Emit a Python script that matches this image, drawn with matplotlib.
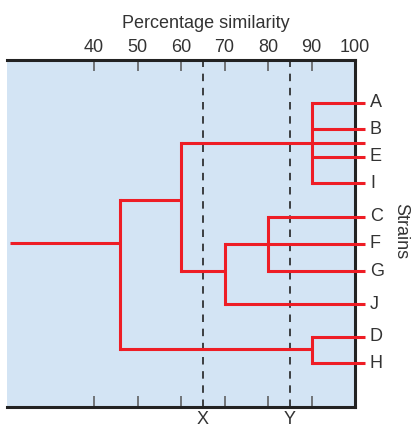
import matplotlib
matplotlib.use("Agg")
import matplotlib.pyplot as plt
from matplotlib.transforms import blended_transform_factory

plt.rcParams['font.family'] = ['Liberation Sans', 'DejaVu Sans']

## Data
# leaf names and their row positions (rows counted from the top edge)
leaf_names = ['A', 'B', 'E', 'I', 'C', 'F', 'G', 'J', 'D', 'H']
leaf_rows = [1.56, 2.54, 3.54, 4.51, 5.74, 6.74, 7.73, 8.94, 10.14, 11.11]
# similarity level at which each leaf joins its cluster
leaf_levels = [90, 90, 90, 90, 80, 80, 80, 70, 90, 90]

# clusters: similarity level, span of the vertical, row of the stem, parent level
cluster_names = ['ABEI', 'CFG', 'CFGJ', 'ABEICFGJ', 'DH', 'root']
cluster_levels = [90, 80, 70, 60, 90, 46]
cluster_top = [1.56, 5.74, 6.74, 3.04, 10.14, 5.13]
cluster_bottom = [4.51, 7.73, 8.94, 7.73, 11.11, 10.6]
cluster_stem = [3.04, 6.74, 7.73, 5.13, 10.6, 6.71]
cluster_parent = [60, 70, 60, 46, 46, 20.7]
cluster_stem_end = [102.3, 80, 70, 60, 90, 46]

ticks = [40, 50, 60, 70, 80, 90, 100]
cut_levels = [65, 85]
cut_names = ['X', 'Y']

n_rows = 12.7
red = '#ee1d25'
lw = 2.2
fs = 13
txt = '#333333'

fig = plt.figure(figsize=(4.11, 4.29), dpi=100)
ax = fig.add_axes([7 / 411, 1 - 406.7 / 429, 348 / 411, 346.7 / 429])
ax.set_facecolor('#d3e4f4')
ax.set_xlim(20, 100)
ax.set_ylim(n_rows, 0)

# leaves, extending past the right border
for row, level in zip(leaf_rows, leaf_levels):
    ax.plot([level, 102.3], [row, row], color=red, lw=lw, clip_on=False,
            solid_capstyle='butt', zorder=3)

# cluster verticals and stems
for level, top, bottom, stem, parent, end in zip(cluster_levels, cluster_top, cluster_bottom,
                                                 cluster_stem, cluster_parent, cluster_stem_end):
    ax.plot([level, level], [top, bottom], color=red, lw=lw, solid_capstyle='projecting', zorder=3)
    ax.plot([parent, end], [stem, stem], color=red, lw=lw, clip_on=False,
            solid_capstyle='butt', zorder=3)

# cut-off lines
trans = blended_transform_factory(ax.transData, ax.transAxes)
for level, name in zip(cut_levels, cut_names):
    ax.axvline(level, color='#222222', lw=1.2, ls=(0, (4.5, 4)), zorder=2)
    ax.text(level, -0.012, name, transform=trans, ha='center', va='top',
            fontsize=fs, color=txt)

for side in ['top', 'bottom', 'right']:
    ax.spines[side].set_linewidth(2.2)
    ax.spines[side].set_color('#222222')
ax.spines['left'].set_visible(False)

ax.set_xticks(ticks)
ax.tick_params(axis='x', direction='in', length=8, width=1.1, color='#555555',
               top=True, bottom=True, labeltop=True, labelbottom=False,
               labelsize=fs, labelcolor=txt, pad=3)
ax.set_yticks([])

fig.text(0.5, 1 - 28 / 429, 'Percentage similarity', ha='center', va='baseline',
         fontsize=fs, color=txt)

# leaf labels
for name, row in zip(leaf_names, leaf_rows):
    ax.text(1.043, row, name, transform=blended_transform_factory(ax.transAxes, ax.transData),
            ha='left', va='center', fontsize=fs, color=txt)

fig.text(401 / 411, 1 - 231 / 429, 'Strains', rotation=270, ha='center', va='center',
         fontsize=fs, color=txt)

fig.savefig('out.png', dpi=100)
